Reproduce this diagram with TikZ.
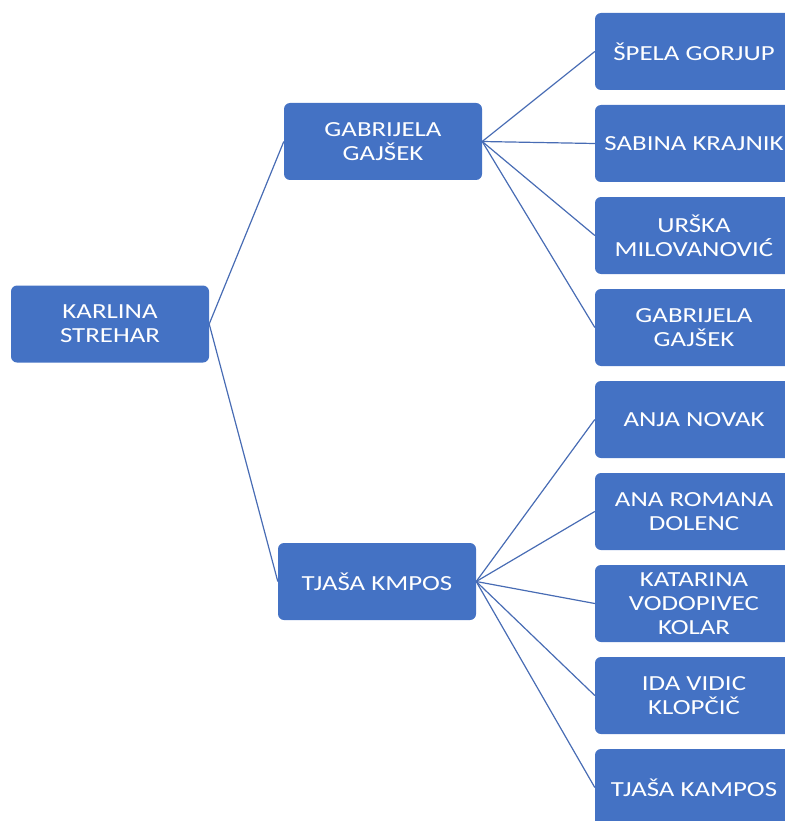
\documentclass[tikz,border=0pt]{standalone}
\usepackage{fontspec}
\setmainfont{Carlito}[FakeStretch=1.25]
\usepackage{tikz}
\definecolor{officeblue}{RGB}{68,114,196}
\definecolor{linkblue}{RGB}{72,108,180}
\tikzset{
  person/.style={draw=none, fill=officeblue, rounded corners=6pt, minimum width=198pt, minimum height=77pt, inner sep=0pt, text=white, align=center, font=\fontsize{21.5}{24}\selectfont},
  link/.style={draw=linkblue, line width=1.2pt}
}

\begin{document}
\begin{tikzpicture}[x=1pt, y=-1pt]
				\useasboundingbox (0,0) rectangle (784,821);
				\node[person] (karlina) at (110,324) {KARLINA\\STREHAR};
				\node[person] (gabrijela) at (383,141.5) {GABRIJELA\\GAJŠEK};
				\node[person] (tjasa) at (377,581.5) {TJAŠA KMPOS};
				\foreach \name/\y/\txt in {spela/51.5/{ŠPELA GORJUP}, sabina/143.5/{SABINA KRAJNIK}, urska/235.5/{URŠKA\\MILOVANOVIĆ}, gabrijelab/327.5/{GABRIJELA\\GAJŠEK}, anja/419.5/{ANJA NOVAK}, ana/511.5/{ANA ROMANA\\DOLENC}, katarina/603.5/{KATARINA\\VODOPIVEC\\KOLAR}, ida/695.5/{IDA VIDIC\\KLOPČIČ}, tjasab/787.5/{TJAŠA KAMPOS}} {
					\node[person] (\name) at (694,\y) {\txt};
				}
				\draw[link] (karlina.east) -- (gabrijela.west);
				\draw[link] (karlina.east) -- (tjasa.west);
				\foreach \leaf in {spela,sabina,urska,gabrijelab} {
					\draw[link] (gabrijela.east) -- (\leaf.west);
				}
				\foreach \leaf in {anja,ana,katarina,ida,tjasab} {
					\draw[link] (tjasa.east) -- (\leaf.west);
				}
			\end{tikzpicture}
\end{document}
